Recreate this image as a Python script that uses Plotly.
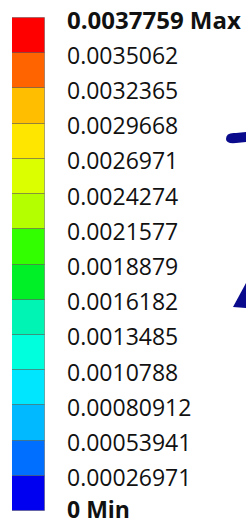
import plotly.graph_objects as go

# Legend boundary values (top to bottom)
levels = [0.0037759, 0.0035062, 0.0032365, 0.0029668, 0.0026971, 0.0024274,
          0.0021577, 0.0018879, 0.0016182, 0.0013485, 0.0010788, 0.00080912,
          0.00053941, 0.00026971, 0.0]
labels = ["0.0037759 Max", "0.0035062", "0.0032365", "0.0029668", "0.0026971",
          "0.0024274", "0.0021577", "0.0018879", "0.0016182", "0.0013485",
          "0.0010788", "0.00080912", "0.00053941", "0.00026971", "0 Min"]
# band colours, bottom to top
band_colors = ["#0000f0", "#006eff", "#00b9ff", "#00e6ff", "#00ffdc", "#00f5b4",
               "#00f028", "#32ff00", "#b4ff00", "#dcff00", "#ffe600", "#ffbe00",
               "#ff6400", "#ff0000"]

W, H = 246, 524
bar_top_px, bar_bot_px = 18, 511
vmax = levels[0]
per_px = vmax / (bar_bot_px - bar_top_px)
y_top = vmax + bar_top_px * per_px
y_bot = -(H - bar_bot_px) * per_px

asc = levels[::-1]
fig = go.Figure()
for i in range(len(asc) - 1):
    fig.add_trace(go.Bar(
        x=[0], y=[asc[i + 1] - asc[i]], base=[asc[i]],
        marker=dict(color=band_colors[i], line=dict(color="rgba(70,70,70,0.45)", width=1)),
        width=1, showlegend=False, hoverinfo="skip"))

n = len(levels)
for k, (v, t) in enumerate(zip(levels, labels)):
    bold = k == 0 or k == n - 1
    last = k == n - 1
    fig.add_annotation(
        x=66 / W, xref="paper", y=v, yref="y", xanchor="left", yanchor="middle",
        yshift=2.5 if last else -1.5, showarrow=False, borderpad=0,
        text=f"<b>{t}</b>" if bold else t,
        font=dict(family="Open Sans", size=(23 if last else 24) if bold else 23, color="#111111"))

# fragments of the model at the right edge
fig.add_shape(type="path", xref="paper", yref="paper",
              path=f"M {226/W} {1-139/H} Q {226/W} {1-132/H} {236/W} {1-133/H} L {246/W} {1-132/H} "
                   f"L {246/W} {1-142/H} L {236/W} {1-143/H} Q {226/W} {1-144/H} {226/W} {1-139/H} Z",
              fillcolor="#0a0a8c", line=dict(width=0))
fig.add_shape(type="path", xref="paper", yref="paper",
              path=f"M {233/W} {1-307/H} L {246/W} {1-283/H} L {246/W} {1-308/H} Z",
              fillcolor="#0a0a8c", line=dict(width=0))

fig.update_layout(
    width=W, height=H, margin=dict(l=0, r=0, t=0, b=0),
    paper_bgcolor="white", plot_bgcolor="white", barmode="overlay", bargap=0,
    xaxis=dict(domain=[12 / W, 45 / W], range=[-0.5, 0.5], visible=False, fixedrange=True),
    yaxis=dict(range=[y_bot, y_top], visible=False, fixedrange=True),
)
fig.write_html("out.html", config={"displayModeBar": False},
               post_script="document.body.style.margin='0px';document.body.style.overflow='hidden';")
